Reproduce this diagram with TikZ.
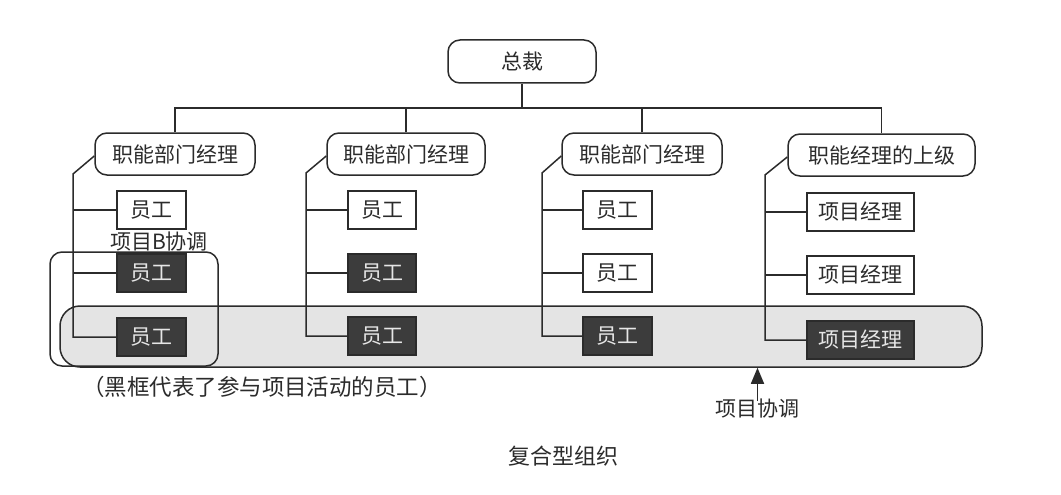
\documentclass[tikz,border=0pt]{standalone}
\usepackage{fontspec}
\newfontfamily\cjk{Noto Sans CJK SC}
\usetikzlibrary{arrows.meta}
\definecolor{ln}{HTML}{2B2B2B}
\definecolor{bandgray}{HTML}{E4E4E4}
\definecolor{darkbox}{HTML}{3C3C3C}
\definecolor{darktext}{HTML}{E6E6E6}
\tikzset{
  txt/.style={font=\cjk\fontsize{21}{24}\selectfont, text=ln, inner sep=0pt},
  mgr/.style={txt, draw=ln, line width=1.5pt, rounded corners=12pt, minimum height=42pt},
  emp/.style={txt, draw=ln, line width=1.5pt, fill=white, minimum height=38pt},
  dark/.style={emp, fill=darkbox, text=darktext},
  conn/.style={draw=ln, line width=1.5pt},
}
\begin{document}
\begin{tikzpicture}[x=1pt,y=-1pt]
\useasboundingbox (0,0) rectangle (1061,495);
% background band and project B frame
\node[draw=ln, line width=1.5pt, fill=bandgray, rounded corners=20pt, minimum width=922pt, minimum height=61pt, inner sep=0pt] (band) at (521,336.5) {};
\node[draw=ln, line width=1.5pt, rounded corners=12pt, minimum width=168pt, minimum height=114pt, inner sep=0pt] (projb) at (134,309) {};

% top
\node[mgr, minimum width=148pt, minimum height=43pt] (top) at (522,61.5) {总裁};
\node[mgr, minimum width=160pt] (m1) at (175,154) {职能部门经理};
\node[mgr, minimum width=158pt] (m2) at (406,154) {职能部门经理};
\node[mgr, minimum width=160pt] (m3) at (642,154) {职能部门经理};
\node[mgr, minimum width=187pt] (m4) at (881.5,155) {职能经理的上级};

\coordinate (bus) at (0,108);
\draw[conn] (top.south) -- (top.south |- bus);
\draw[conn] (m1.north) -- (m1.north |- bus) -- (m4.north |- bus) -- (m4.north);
\draw[conn] (m2.north) -- (m2.north |- bus);
\draw[conn] (m3.north) -- (m3.north |- bus);

% column 1
\node[emp, minimum width=69pt] (e11) at (151.5,210) {员工};
\node[dark, minimum width=69pt] (e12) at (151.5,273) {员工};
\node[dark, minimum width=69pt] (e13) at (151.5,337) {员工};
% column 2
\node[emp, minimum width=68pt] (e21) at (382,210) {员工};
\node[dark, minimum width=68pt] (e22) at (382,273) {员工};
\node[dark, minimum width=68pt] (e23) at (382,336) {员工};
% column 3
\node[emp, minimum width=69pt] (e31) at (617.5,210) {员工};
\node[emp, minimum width=69pt] (e32) at (617.5,273) {员工};
\node[dark, minimum width=69pt] (e33) at (617.5,336) {员工};
% column 4
\node[emp, minimum width=107pt] (e41) at (860.5,212) {项目经理};
\node[emp, minimum width=107pt] (e42) at (860.5,275) {项目经理};
\node[dark, minimum width=107pt] (e43) at (860.5,340) {项目经理};

\coordinate (v1) at (73,174);
\coordinate (v2) at (306,173);
\coordinate (v3) at (542,173);
\coordinate (v4) at (765,175);

\draw[conn] ([yshift=-2pt]m1.west) -- (v1) |- (e13);
\draw[conn] (v1 |- e11) -- (e11);
\draw[conn] (v1 |- e12) -- (e12);
\draw[conn] ([yshift=-2pt]m2.west) -- (v2) |- (e23);
\draw[conn] (v2 |- e21) -- (e21);
\draw[conn] (v2 |- e22) -- (e22);
\draw[conn] ([yshift=-2pt]m3.west) -- (v3) |- (e33);
\draw[conn] (v3 |- e31) -- (e31);
\draw[conn] (v3 |- e32) -- (e32);
\draw[conn] ([yshift=-2pt]m4.west) -- (v4) |- (e43);
\draw[conn] (v4 |- e41) -- (e41);
\draw[conn] (v4 |- e42) -- (e42);

% labels
\node[txt] (lblb) at (159,242) {项目B协调};
\node[txt, font=\cjk\fontsize{22.5}{26}\selectfont] (note) at (262,387) {（黑框代表了参与项目活动的员工）};
\node[txt] (pc) at (757.5,409) {项目协调};
\draw[conn, -{Triangle[length=16pt,width=13pt]}] ([yshift=-2pt]pc.north) -- (pc.north |- band.south);
\node[txt, font=\cjk\fontsize{22}{26}\selectfont] (cap) at (563,456) {复合型组织};
\end{tikzpicture}
\end{document}
